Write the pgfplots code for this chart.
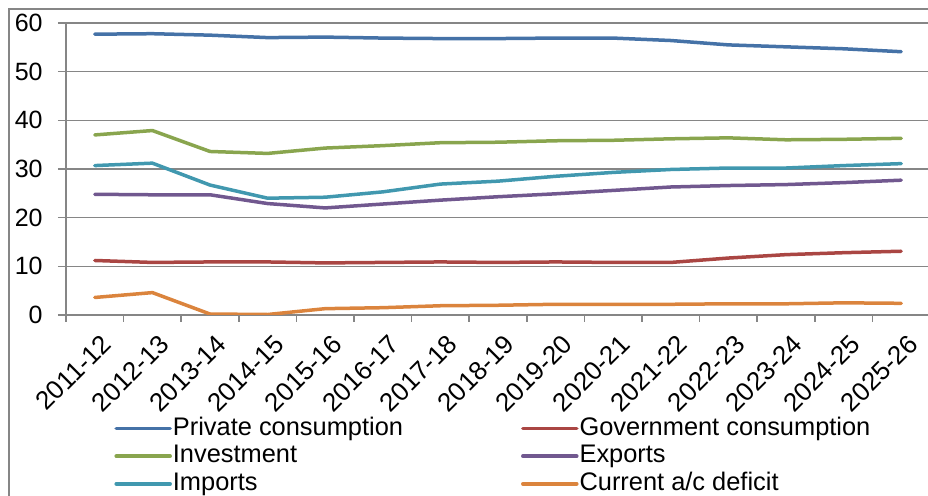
\documentclass[border=0pt]{standalone}
\usepackage{pgfplots}
\pgfplotsset{compat=1.18}
\usepackage{fontspec}
\setmainfont{Liberation Sans}
\definecolor{cPriv}{HTML}{4572A7}
\definecolor{cGov}{HTML}{AA4643}
\definecolor{cInv}{HTML}{89A54E}
\definecolor{cExp}{HTML}{71588F}
\definecolor{cImp}{HTML}{4198AF}
\definecolor{cCad}{HTML}{DB843D}
\definecolor{gridc}{HTML}{868686}
\begin{document}
\begin{tikzpicture}
\begin{axis}[
  at={(0,0)}, anchor=south west,
  scale only axis, width=432pt, height=146pt,
  xmin=-0.5, xmax=14.5, ymin=0, ymax=60,
  axis lines*=left,
  axis line style={gridc, line width=0.75pt},
  ytick={0,10,...,60},
  ymajorgrids, grid style={gridc, line width=0.75pt},
  xtick={0,...,14},
  xticklabels={2011-12,2012-13,2013-14,2014-15,2015-16,2016-17,2017-18,2018-19,2019-20,2020-21,2021-22,2022-23,2023-24,2024-25,2025-26},
  minor xtick={-0.5,0.5,...,14.5},
  tick align=outside,
  major tick length=4pt, minor tick length=3.5pt,
  major x tick style={draw=none},
  tick style={gridc, line width=0.75pt},
  /pgf/number format/assume math mode=true,
  tick label style={font=\fontsize{12.5}{14}\selectfont, inner sep=0pt},
  xticklabel style={font=\fontsize{13}{15}\selectfont, rotate=45, anchor=east, xshift=-1.5pt, yshift=-10pt},
  yticklabel style={anchor=east, xshift=-7.5pt},
  legend columns=2,
  legend style={at={(axis description cs:0.0556,-0.345)}, anchor=north west,
    draw=none, fill=none, inner sep=0pt,
    font=\fontsize{12.7}{14}\selectfont,
    nodes={inner sep=0.5pt, text height=9pt, text depth=2.5pt},
    row sep=1.3pt,
    /tikz/every odd column/.append style={column sep=0pt},
    /tikz/every even column/.append style={column sep=58.5pt}},
  legend cell align=left,
  legend image code/.code={\draw[#1] (0pt,0pt) -- (27pt,0pt);},
  every axis plot/.append style={line width=1.75pt, line cap=round, line join=round},
]
\addplot[cPriv] coordinates {(0,57.7)(1,57.8)(2,57.5)(3,57.0)(4,57.1)(5,56.9)(6,56.8)(7,56.8)(8,56.9)(9,56.9)(10,56.4)(11,55.5)(12,55.1)(13,54.7)(14,54.1)};
\addlegendentry{Private consumption}
\addplot[cGov] coordinates {(0,11.2)(1,10.8)(2,10.9)(3,10.9)(4,10.7)(5,10.8)(6,10.9)(7,10.8)(8,10.9)(9,10.8)(10,10.8)(11,11.7)(12,12.4)(13,12.8)(14,13.1)};
\addlegendentry{Government consumption}
\addplot[cInv] coordinates {(0,37.0)(1,37.9)(2,33.6)(3,33.2)(4,34.3)(5,34.8)(6,35.4)(7,35.5)(8,35.8)(9,35.9)(10,36.2)(11,36.4)(12,36.0)(13,36.1)(14,36.3)};
\addlegendentry{Investment}
\addplot[cExp] coordinates {(0,24.8)(1,24.7)(2,24.7)(3,22.9)(4,22.0)(5,22.8)(6,23.6)(7,24.3)(8,24.9)(9,25.6)(10,26.3)(11,26.6)(12,26.8)(13,27.2)(14,27.7)};
\addlegendentry{Exports}
\addplot[cImp] coordinates {(0,30.7)(1,31.2)(2,26.7)(3,24.0)(4,24.2)(5,25.3)(6,26.9)(7,27.5)(8,28.5)(9,29.3)(10,29.9)(11,30.2)(12,30.2)(13,30.7)(14,31.1)};
\addlegendentry{Imports}
\addplot[cCad] coordinates {(0,3.6)(1,4.6)(2,0.2)(3,0.1)(4,1.3)(5,1.5)(6,1.9)(7,2.0)(8,2.2)(9,2.2)(10,2.2)(11,2.3)(12,2.3)(13,2.5)(14,2.4)};
\addlegendentry{Current a/c deficit}
\end{axis}
\draw[gridc, line width=0.75pt] (-28.5pt,-100pt) -- (-28.5pt,153pt) -- (440pt,153pt);
\pgfresetboundingbox
\useasboundingbox (-33pt,-90.5pt) rectangle (431pt,157.5pt);
\end{tikzpicture}
\end{document}
